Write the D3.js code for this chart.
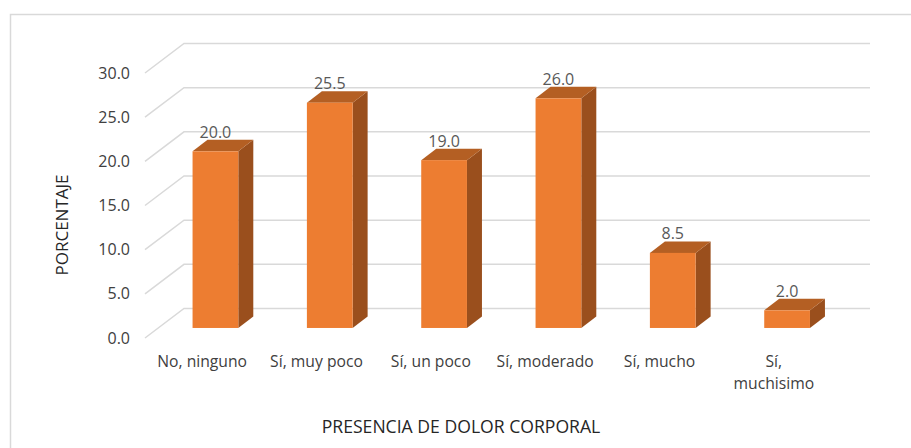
<!DOCTYPE html>
<html>
<head>
<meta charset="utf-8">
<script src="https://cdn.jsdelivr.net/npm/d3@7"></script>
<style>
  body { margin: 0; background: #fff; }
  text { font-family: "Open Sans", sans-serif; }
</style>
</head>
<body>
<div id="chart"></div>
<script>
// data
const categories = ['No, ninguno', 'Sí, muy poco', 'Sí, un poco', 'Sí, moderado', 'Sí, mucho', 'Sí, muchisimo'];
const values = [20.0, 25.5, 19.0, 26.0, 8.5, 2.0];
const ticks = [0, 5, 10, 15, 20, 25, 30];

const W = 911, H = 448;

const COLORS = {
  front: '#ed7d31',
  top:   '#b45f23',
  side:  '#9a4f1d',
  grid:  '#d9d9d9',
  tick:  '#404040',
  value: '#595959',
  title: '#262626'
};

// 3d geometry: wall depth and bar depth
const DEPTH = { dx: 39, dy: -29.5 };
const BAR = { d0: 0.34, dx: 15, dy: -11.5 };

const svg = d3.select('#chart').append('svg')
  .attr('width', W)
  .attr('height', H);

svg.append('rect')
  .attr('x', 10.5).attr('y', 14.5)
  .attr('width', W).attr('height', H)
  .style('fill', 'none')
  .style('stroke', COLORS.grid)
  .style('stroke-width', 1.5);

const x = d3.scaleBand()
  .domain(categories)
  .range([145, 831])
  .paddingInner(0.6)
  .paddingOuter(0.3);

const y = d3.scaleLinear()
  .domain([0, 30])
  .range([338, 73]);

const backRight = x.range()[1] + DEPTH.dx;

// gridlines: front diagonal + back wall line
svg.append('g').selectAll('polyline')
    .data(ticks)
  .enter().append('polyline')
    .attr('points', d => {
      let fx = x.range()[0], fy = y(d);
      return [[fx, fy], [fx + DEPTH.dx, fy + DEPTH.dy], [backRight, fy + DEPTH.dy]].join(' ');
    })
    .style('fill', 'none')
    .style('stroke', COLORS.grid)
    .style('stroke-width', 1.5);

// tick labels
svg.append('g').selectAll('text')
    .data(ticks)
  .enter().append('text')
    .text(d => d3.format('.1f')(d))
    .attr('x', 130)
    .attr('y', d => y(d))
    .attr('dy', '0.35em')
    .attr('text-anchor', 'end')
    .style('font-size', '16px')
    .style('fill', COLORS.tick);

// bars
const offX = BAR.d0 * DEPTH.dx, offY = BAR.d0 * DEPTH.dy;
const bars = svg.append('g').selectAll('g')
    .data(categories.map((c, i) => ({ c: c, v: values[i] })))
  .enter().append('g');

bars.each(function(d) {
  let g = d3.select(this);
  let xl = x(d.c) + offX, xr = xl + x.bandwidth();
  let yt = y(d.v) + offY, yb = y(0) + offY;

  g.append('polygon')
    .attr('points', [[xr, yt], [xr + BAR.dx, yt + BAR.dy], [xr + BAR.dx, yb + BAR.dy], [xr, yb]].join(' '))
    .style('fill', COLORS.side);
  g.append('polygon')
    .attr('points', [[xl, yt], [xl + BAR.dx, yt + BAR.dy], [xr + BAR.dx, yt + BAR.dy], [xr, yt]].join(' '))
    .style('fill', COLORS.top);
  g.append('rect')
    .attr('x', xl).attr('y', yt)
    .attr('width', x.bandwidth())
    .attr('height', yb - yt)
    .style('fill', COLORS.front);

  g.append('text')
    .text(d3.format('.1f')(d.v))
    .attr('x', (xl + xr) / 2)
    .attr('y', yt + BAR.dy - 2)
    .attr('text-anchor', 'middle')
    .style('font-size', '16px')
    .style('fill', COLORS.value);
});

// category labels (last one wraps)
svg.append('g').selectAll('text')
    .data(categories)
  .enter().append('text')
    .attr('x', d => x(d) + x.bandwidth() / 2)
    .attr('y', 367)
    .attr('text-anchor', 'middle')
    .style('font-size', '15.7px')
    .style('fill', COLORS.tick)
    .each(function(d) {
      let lines = d === 'Sí, muchisimo' ? ['Sí,', 'muchisimo'] : [d];
      d3.select(this).selectAll('tspan')
          .data(lines)
        .enter().append('tspan')
          .attr('x', x(d) + x.bandwidth() / 2)
          .attr('dy', (l, i) => i ? 22 : 0)
          .text(l => l);
    });

// axis titles
svg.append('text')
  .text('PRESENCIA DE DOLOR CORPORAL')
  .attr('x', 461).attr('y', 433)
  .attr('text-anchor', 'middle')
  .style('font-size', '17.6px')
  .style('fill', COLORS.title);

svg.append('text')
  .text('PORCENTAJE')
  .attr('transform', 'translate(68,225) rotate(-90)')
  .attr('text-anchor', 'middle')
  .style('font-size', '17px')
  .style('fill', COLORS.title);
</script>
</body>
</html>
